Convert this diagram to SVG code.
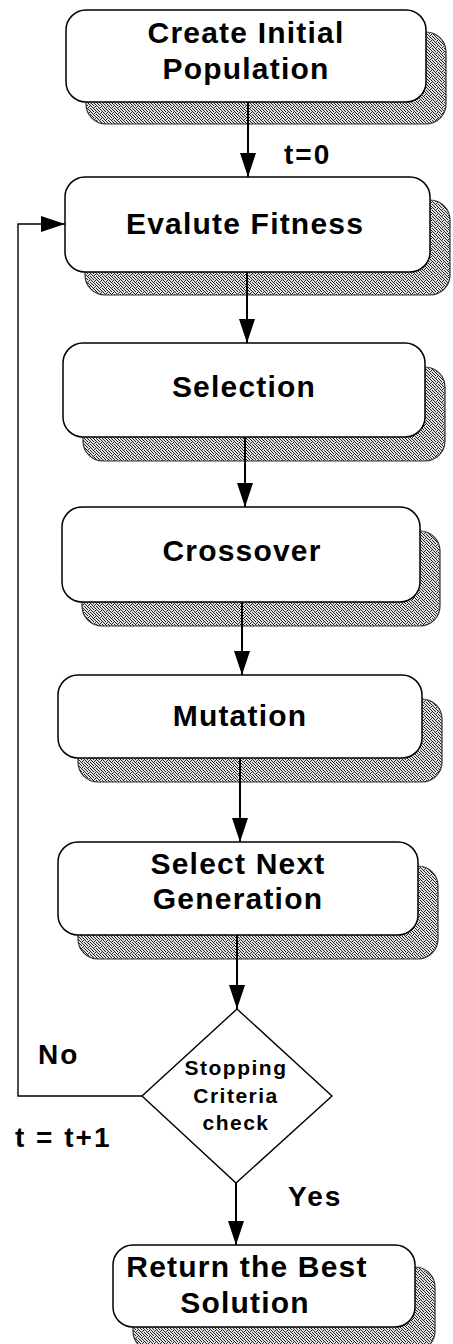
<svg xmlns="http://www.w3.org/2000/svg" width="453" height="1344" viewBox="0 0 453 1344">
  <style>
    .box { fill: #ffffff; stroke: #000000; stroke-width: 1.5; }
    .shadow { fill: url(#stipple); stroke: #333333; stroke-width: 1.2; }
    .lbl { font-family: "Liberation Sans", Arial, sans-serif; font-weight: bold; font-size: 30px; letter-spacing: 1.2px; fill: #000000; text-anchor: middle; }
    .small { font-family: "Liberation Sans", Arial, sans-serif; font-weight: bold; font-size: 21px; letter-spacing: 1.5px; fill: #000000; text-anchor: middle; }
    .note { font-family: "Liberation Sans", Arial, sans-serif; font-weight: bold; font-size: 28px; letter-spacing: 2px; fill: #000000; }
    .wire { fill: none; stroke: #000000; stroke-width: 2; }
    .thin { fill: none; stroke: #000000; stroke-width: 1.4; }
  </style>
  <defs>
    <!-- dithered halftone used for the drop shadows -->
    <pattern id="stipple" width="6" height="6" patternUnits="userSpaceOnUse">
      <rect width="6" height="6" fill="#e2e2e2"/>
      <g fill="#222222" shape-rendering="crispEdges">
        <rect x="0" y="0" width="1" height="1"/>
        <rect x="3" y="0" width="1" height="1"/>
        <rect x="1" y="1" width="1" height="1"/>
        <rect x="4" y="1" width="1" height="1"/>
        <rect x="2" y="2" width="1" height="1"/>
        <rect x="5" y="2" width="1" height="1"/>
        <rect x="0" y="3" width="1" height="1"/>
        <rect x="3" y="3" width="1" height="1"/>
        <rect x="1" y="4" width="1" height="1"/>
        <rect x="5" y="4" width="1" height="1"/>
        <rect x="2" y="5" width="1" height="1"/>
        <rect x="4" y="5" width="1" height="1"/>
      </g>
    </pattern>
    <marker id="arrow" viewBox="0 0 24 16" refX="24" refY="8" markerWidth="24" markerHeight="16" markerUnits="userSpaceOnUse" orient="auto">
      <path d="M0,0 L24,8 L0,16 Z" fill="#000000"/>
    </marker>
  </defs>

  <!-- process steps -->
  <g id="create-population">
    <rect class="shadow" x="86" y="32" width="360" height="92" rx="20"/>
    <rect class="box" x="66" y="10" width="360" height="92" rx="20"/>
    <text class="lbl" x="246" y="43">Create Initial</text>
    <text class="lbl" x="246" y="79">Population</text>
  </g>

  <g id="evaluate-fitness">
    <rect class="shadow" x="85" y="200" width="365" height="95" rx="20"/>
    <rect class="box" x="65" y="177" width="365" height="95" rx="20"/>
    <text class="lbl" x="245" y="234">Evalute Fitness</text>
  </g>

  <g id="selection">
    <rect class="shadow" x="83" y="367" width="362" height="94" rx="20"/>
    <rect class="box" x="63" y="343" width="362" height="94" rx="20"/>
    <text class="lbl" x="244" y="397">Selection</text>
  </g>

  <g id="crossover">
    <rect class="shadow" x="82" y="531" width="358" height="95" rx="20"/>
    <rect class="box" x="62" y="507" width="358" height="95" rx="20"/>
    <text class="lbl" x="242" y="561">Crossover</text>
  </g>

  <g id="mutation">
    <rect class="shadow" x="78" y="699" width="364" height="83" rx="20"/>
    <rect class="box" x="58" y="675" width="364" height="83" rx="20"/>
    <text class="lbl" x="240" y="726">Mutation</text>
  </g>

  <g id="select-next-generation">
    <rect class="shadow" x="78" y="866" width="360" height="93" rx="20"/>
    <rect class="box" x="58" y="842" width="360" height="93" rx="20"/>
    <text class="lbl" x="238" y="874">Select Next</text>
    <text class="lbl" x="238" y="909">Generation</text>
  </g>

  <g id="stopping-check">
    <polygon class="thin" fill="#ffffff" points="237,1009 332,1096 236,1183 142,1096"/>
    <text class="small" x="236" y="1075">Stopping</text>
    <text class="small" x="236" y="1103">Criteria</text>
    <text class="small" x="236" y="1130">check</text>
  </g>

  <g id="return-best">
    <rect class="shadow" x="133" y="1267" width="302" height="84" rx="20"/>
    <rect class="box" x="113" y="1245" width="302" height="82" rx="20"/>
    <text class="lbl" x="247" y="1277">Return the Best</text>
    <text class="lbl" x="245" y="1313">Solution</text>
  </g>

  <!-- flow lines -->
  <g id="connectors">
    <line class="wire" x1="248" y1="102" x2="248" y2="177" marker-end="url(#arrow)"/>
    <line class="wire" x1="247" y1="272" x2="247" y2="343" marker-end="url(#arrow)"/>
    <line class="wire" x1="245" y1="437" x2="245" y2="507" marker-end="url(#arrow)"/>
    <line class="wire" x1="242" y1="602" x2="242" y2="675" marker-end="url(#arrow)"/>
    <line class="wire" x1="240" y1="758" x2="240" y2="842" marker-end="url(#arrow)"/>
    <line class="wire" x1="237" y1="935" x2="237" y2="1009" marker-end="url(#arrow)"/>
    <line class="wire" x1="236" y1="1183" x2="236" y2="1245" marker-end="url(#arrow)"/>
    <polyline class="thin" points="142,1096 18,1096 18,224 65,224" marker-end="url(#arrow)"/>
  </g>

  <!-- loop annotations -->
  <g id="labels">
    <text class="note" x="284" y="164">t=0</text>
    <text class="note" x="38" y="1064">No</text>
    <text class="note" x="15" y="1147">t = t+1</text>
    <text class="note" x="288" y="1206">Yes</text>
  </g>
</svg>
